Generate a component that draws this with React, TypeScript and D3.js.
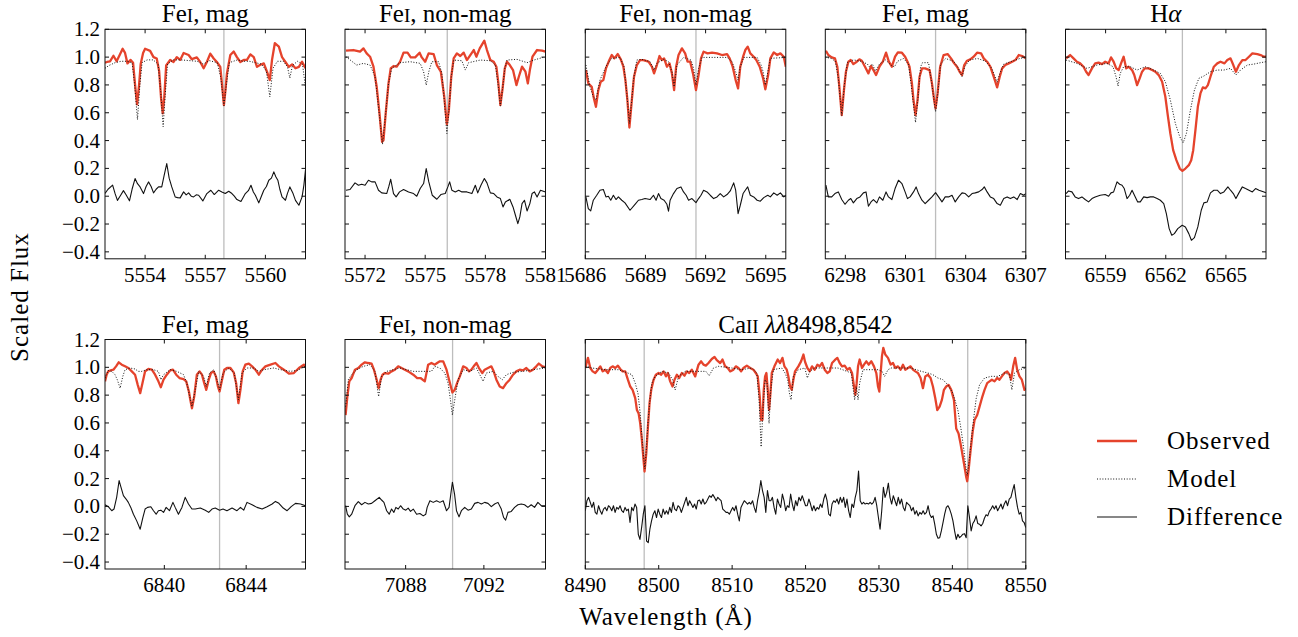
import React from "react";
import * as d3 from "d3";

type Pt = [number, number];

// ---------- Fe I 5557 (magnetic) ----------
const fe5557Obs: Pt[] = [[5552.0,0.96],[5552.1,0.965],[5552.25,0.97],[5552.42,1.01],[5552.58,0.97],[5552.75,1.02],[5552.88,1.06],[5553.0,1.03],[5553.12,0.955],[5553.28,0.98],[5553.4,0.96],[5553.5,0.8],[5553.6,0.66],[5553.7,0.8],[5553.78,0.95],[5553.9,1.03],[5554.0,1.06],[5554.25,1.045],[5554.42,1.0],[5554.58,0.99],[5554.7,0.9],[5554.8,0.7],[5554.88,0.595],[5554.96,0.72],[5555.05,0.94],[5555.25,0.98],[5555.42,0.965],[5555.58,1.0],[5555.75,0.98],[5555.92,1.03],[5556.17,1.015],[5556.33,0.985],[5556.58,0.998],[5556.75,0.965],[5556.92,0.92],[5557.08,0.965],[5557.25,1.025],[5557.42,0.99],[5557.58,0.965],[5557.75,0.93],[5557.85,0.78],[5557.93,0.655],[5558.0,0.75],[5558.08,0.88],[5558.25,1.015],[5558.42,1.04],[5558.58,1.0],[5558.75,0.965],[5558.92,0.98],[5559.08,0.98],[5559.25,1.02],[5559.42,1.0],[5559.58,0.93],[5559.75,0.945],[5559.92,0.955],[5560.08,0.895],[5560.22,0.835],[5560.33,0.98],[5560.47,1.1],[5560.67,1.075],[5560.83,1.0],[5561.0,0.965],[5561.17,0.93],[5561.33,0.948],[5561.5,0.92],[5561.67,0.93],[5561.83,0.967],[5562.0,0.92]];
const fe5557Model: Pt[] = [[5552.0,0.92],[5552.2,0.94],[5552.5,0.96],[5552.8,0.97],[5553.1,0.97],[5553.35,0.96],[5553.48,0.8],[5553.62,0.55],[5553.74,0.8],[5553.85,0.96],[5554.1,0.98],[5554.4,0.98],[5554.65,0.95],[5554.78,0.75],[5554.9,0.5],[5555.0,0.72],[5555.12,0.95],[5555.4,0.98],[5555.8,0.98],[5556.2,0.975],[5556.6,0.97],[5556.9,0.95],[5557.2,0.975],[5557.6,0.96],[5557.78,0.85],[5557.93,0.65],[5558.05,0.8],[5558.2,0.96],[5558.6,0.98],[5558.9,0.97],[5559.2,0.97],[5559.5,0.96],[5559.8,0.95],[5560.05,0.9],[5560.22,0.715],[5560.38,0.92],[5560.6,0.97],[5560.9,0.97],[5561.1,0.93],[5561.22,0.85],[5561.35,0.94],[5561.6,0.97],[5561.85,0.95],[5562.0,0.78]];
const fe5557Diff: Pt[] = [[5552.0,0.02],[5552.15,0.05],[5552.38,0.08],[5552.5,0.02],[5552.62,-0.03],[5552.75,0.0],[5552.92,0.04],[5553.05,0.01],[5553.22,-0.033],[5553.35,0.05],[5553.5,0.127],[5553.62,0.09],[5553.75,0.067],[5553.92,0.019],[5554.05,0.07],[5554.17,0.103],[5554.3,0.07],[5554.42,0.024],[5554.55,0.05],[5554.67,0.067],[5554.83,0.067],[5554.95,0.15],[5555.08,0.235],[5555.2,0.13],[5555.33,0.067],[5555.5,-0.005],[5555.62,-0.01],[5555.75,-0.012],[5555.92,0.031],[5556.05,0.01],[5556.17,0.024],[5556.3,0.0],[5556.42,-0.005],[5556.55,0.01],[5556.67,0.007],[5556.88,-0.034],[5557.08,0.019],[5557.28,0.043],[5557.45,0.012],[5557.67,0.043],[5557.83,0.031],[5558.0,0.019],[5558.17,0.036],[5558.33,0.019],[5558.45,0.0],[5558.58,-0.024],[5558.78,-0.038],[5559.0,0.019],[5559.15,0.04],[5559.28,0.079],[5559.4,0.03],[5559.5,0.007],[5559.67,-0.048],[5559.8,0.0],[5559.92,0.043],[5560.05,0.07],[5560.17,0.115],[5560.3,0.13],[5560.42,0.175],[5560.52,0.14],[5560.62,0.115],[5560.72,0.05],[5560.83,-0.005],[5561.0,-0.029],[5561.1,0.02],[5561.22,0.067],[5561.38,0.019],[5561.5,-0.03],[5561.67,-0.065],[5561.83,-0.005],[5561.92,0.08],[5562.0,0.19]];

// ---------- Fe I 5576 (non-magnetic) ----------
const fe5576Obs: Pt[] = [[5571.05,1.046],[5571.42,1.051],[5571.75,1.039],[5571.92,1.063],[5572.08,1.027],[5572.25,1.003],[5572.42,0.931],[5572.58,0.787],[5572.72,0.595],[5572.85,0.391],[5572.92,0.403],[5573.03,0.595],[5573.17,0.811],[5573.28,0.919],[5573.42,0.936],[5573.58,0.931],[5573.75,0.967],[5573.92,1.032],[5574.12,1.032],[5574.28,0.998],[5574.5,0.998],[5574.72,1.032],[5574.83,0.998],[5575.0,0.967],[5575.17,1.027],[5575.42,1.022],[5575.58,0.943],[5575.78,0.895],[5575.95,0.715],[5576.08,0.518],[5576.18,0.619],[5576.3,0.859],[5576.42,0.991],[5576.58,1.027],[5576.75,1.008],[5576.92,1.032],[5577.08,0.979],[5577.25,1.015],[5577.42,1.051],[5577.55,1.003],[5577.72,1.063],[5577.95,1.118],[5578.08,1.051],[5578.25,0.979],[5578.42,0.967],[5578.55,0.931],[5578.65,0.811],[5578.75,0.655],[5578.85,0.763],[5578.97,0.919],[5579.08,0.967],[5579.22,0.943],[5579.38,0.907],[5579.55,0.799],[5579.67,0.859],[5579.83,0.931],[5580.0,0.895],[5580.12,0.811],[5580.22,0.907],[5580.35,1.003],[5580.58,1.051],[5580.83,1.046],[5581.0,1.039]];
const fe5576Model: Pt[] = [[5571.05,1.003],[5571.58,0.943],[5571.92,0.955],[5572.25,0.943],[5572.5,0.859],[5572.67,0.643],[5572.87,0.374],[5573.03,0.595],[5573.17,0.811],[5573.33,0.919],[5573.75,0.96],[5574.25,0.967],[5574.75,0.955],[5574.92,0.895],[5575.05,0.799],[5575.18,0.895],[5575.33,0.967],[5575.67,0.967],[5575.83,0.883],[5575.95,0.691],[5576.08,0.451],[5576.2,0.643],[5576.3,0.859],[5576.42,0.979],[5576.83,0.974],[5577.0,0.907],[5577.17,0.96],[5577.75,0.979],[5578.25,0.974],[5578.5,0.943],[5578.63,0.811],[5578.75,0.648],[5578.87,0.787],[5578.97,0.919],[5579.08,0.979],[5579.58,0.984],[5580.08,0.96],[5580.42,0.979],[5581.0,1.003]];
const fe5576Diff: Pt[] = [[5571.05,0.043],[5571.25,0.048],[5571.5,0.096],[5571.67,0.079],[5571.83,0.086],[5572.0,0.079],[5572.17,0.115],[5572.33,0.103],[5572.5,0.103],[5572.67,0.043],[5572.83,0.024],[5573.08,0.019],[5573.18,0.067],[5573.28,0.122],[5573.42,0.019],[5573.55,-0.005],[5573.72,0.031],[5573.92,0.048],[5574.17,0.031],[5574.42,0.019],[5574.58,0.0],[5574.75,0.055],[5574.92,0.091],[5575.05,0.199],[5575.18,0.103],[5575.35,0.007],[5575.58,-0.022],[5575.78,0.012],[5576.0,0.019],[5576.13,0.067],[5576.22,0.103],[5576.33,0.043],[5576.5,0.031],[5576.67,0.043],[5576.83,0.031],[5577.08,0.031],[5577.33,0.019],[5577.5,0.079],[5577.62,0.024],[5577.78,0.079],[5577.95,0.127],[5578.08,0.096],[5578.25,0.024],[5578.42,0.019],[5578.58,-0.005],[5578.75,-0.017],[5578.88,-0.077],[5579.0,-0.041],[5579.22,-0.022],[5579.38,-0.077],[5579.5,-0.137],[5579.62,-0.197],[5579.72,-0.149],[5579.83,-0.053],[5579.95,-0.029],[5580.08,-0.106],[5580.22,-0.053],[5580.33,0.019],[5580.45,0.031],[5580.58,-0.005],[5580.75,0.043],[5581.0,0.031]];

// ---------- Fe I 5691 (non-magnetic) ----------
const fe5691Obs: Pt[] = [[5686.03,0.907],[5686.15,0.811],[5686.32,0.787],[5686.43,0.703],[5686.53,0.643],[5686.65,0.763],[5686.77,0.823],[5686.9,0.835],[5687.03,0.919],[5687.2,0.979],[5687.32,1.015],[5687.45,0.991],[5687.62,1.022],[5687.77,0.984],[5687.9,0.931],[5688.0,0.835],[5688.1,0.691],[5688.2,0.494],[5688.32,0.691],[5688.43,0.859],[5688.57,0.943],[5688.73,0.979],[5688.9,0.979],[5689.15,0.967],[5689.32,0.931],[5689.43,0.883],[5689.57,0.943],[5689.7,1.008],[5689.82,0.979],[5689.93,0.991],[5690.07,0.931],[5690.2,0.955],[5690.32,0.883],[5690.43,0.763],[5690.53,0.931],[5690.65,1.015],[5690.82,1.063],[5690.98,1.027],[5691.1,0.967],[5691.23,0.967],[5691.37,0.883],[5691.52,0.763],[5691.65,0.871],[5691.77,0.991],[5691.9,1.039],[5692.1,1.027],[5692.32,1.032],[5692.57,1.027],[5692.82,1.015],[5693.07,1.022],[5693.2,0.991],[5693.35,0.931],[5693.5,0.835],[5693.62,0.775],[5693.73,0.931],[5693.87,1.003],[5693.98,1.051],[5694.1,1.075],[5694.23,1.027],[5694.4,1.003],[5694.53,0.979],[5694.7,0.931],[5694.87,0.847],[5694.98,0.768],[5695.12,0.871],[5695.23,0.991],[5695.4,1.034],[5695.57,1.015],[5695.73,1.027],[5695.9,1.003],[5696.0,0.931]];
const fe5691Model: Pt[] = [[5686.03,0.943],[5686.23,0.787],[5686.4,0.715],[5686.53,0.691],[5686.73,0.835],[5687.07,0.943],[5687.32,0.991],[5687.73,0.998],[5687.93,0.931],[5688.07,0.739],[5688.2,0.523],[5688.32,0.691],[5688.4,0.835],[5688.57,0.979],[5688.82,0.984],[5689.23,0.967],[5689.43,0.907],[5689.57,0.955],[5689.9,0.984],[5690.15,0.967],[5690.32,0.895],[5690.43,0.787],[5690.57,0.943],[5690.9,0.998],[5691.27,0.979],[5691.4,0.919],[5691.52,0.799],[5691.65,0.919],[5691.82,0.998],[5693.07,0.998],[5693.32,0.967],[5693.5,0.895],[5693.62,0.835],[5693.73,0.931],[5693.9,0.998],[5694.57,0.998],[5694.77,0.943],[5694.87,0.895],[5694.98,0.799],[5695.12,0.907],[5695.23,0.991],[5696.0,0.998]];
const fe5691Diff: Pt[] = [[5686.03,-0.005],[5686.15,-0.089],[5686.27,-0.106],[5686.4,-0.029],[5686.57,0.007],[5686.73,0.043],[5686.9,0.048],[5687.03,-0.005],[5687.15,0.0],[5687.27,-0.029],[5687.4,0.007],[5687.53,-0.024],[5687.65,-0.005],[5687.82,-0.029],[5687.98,-0.048],[5688.23,-0.101],[5688.48,-0.058],[5688.65,-0.029],[5688.82,-0.024],[5688.98,-0.017],[5689.23,-0.024],[5689.4,0.007],[5689.53,-0.029],[5689.65,0.019],[5689.77,-0.017],[5689.93,-0.029],[5690.07,-0.058],[5690.15,-0.108],[5690.23,-0.029],[5690.4,0.019],[5690.57,0.055],[5690.77,0.067],[5690.9,0.031],[5691.03,0.007],[5691.15,-0.029],[5691.32,-0.017],[5691.52,-0.046],[5691.65,-0.017],[5691.77,0.007],[5691.9,0.043],[5692.07,0.031],[5692.23,0.007],[5692.4,-0.017],[5692.57,-0.005],[5692.73,0.019],[5692.9,-0.005],[5693.07,0.012],[5693.23,0.038],[5693.4,0.096],[5693.5,0.043],[5693.62,-0.125],[5693.73,-0.065],[5693.87,0.019],[5693.98,0.043],[5694.1,0.067],[5694.23,0.007],[5694.4,-0.005],[5694.57,-0.029],[5694.73,-0.036],[5694.9,-0.01],[5695.1,0.007],[5695.23,-0.005],[5695.4,0.024],[5695.57,0.007],[5695.73,0.024],[5695.9,-0.005],[5696.0,0.007]];

// ---------- Fe I 6302 (magnetic) ----------
const fe6302Obs: Pt[] = [[6297.03,1.046],[6297.15,1.015],[6297.32,0.998],[6297.48,0.991],[6297.6,0.931],[6297.7,0.787],[6297.82,0.583],[6297.93,0.763],[6298.03,0.895],[6298.15,0.967],[6298.27,0.979],[6298.4,0.95],[6298.57,0.967],[6298.7,0.984],[6298.82,0.974],[6298.98,0.931],[6299.15,0.883],[6299.28,0.936],[6299.4,0.907],[6299.53,0.871],[6299.7,0.931],[6299.87,0.967],[6300.03,1.032],[6300.17,0.967],[6300.32,0.931],[6300.48,1.003],[6300.62,1.034],[6300.82,1.032],[6300.98,1.003],[6301.1,0.967],[6301.2,0.931],[6301.32,0.811],[6301.4,0.691],[6301.5,0.583],[6301.6,0.691],[6301.7,0.859],[6301.82,0.919],[6301.98,0.919],[6302.2,0.907],[6302.32,0.811],[6302.43,0.691],[6302.5,0.631],[6302.6,0.739],[6302.73,0.931],[6302.9,1.015],[6303.1,1.022],[6303.27,0.991],[6303.43,0.955],[6303.57,0.931],[6303.7,0.895],[6303.82,0.871],[6303.93,0.943],[6304.07,0.974],[6304.23,0.984],[6304.4,1.003],[6304.57,1.032],[6304.77,1.027],[6304.9,0.991],[6305.07,0.967],[6305.23,0.931],[6305.4,0.859],[6305.57,0.782],[6305.7,0.859],[6305.82,0.919],[6305.98,0.943],[6306.15,0.955],[6306.32,0.967],[6306.48,0.979],[6306.65,1.015],[6306.82,1.008],[6307.0,0.991]];
const fe6302Model: Pt[] = [[6297.0,1.0],[6297.3,0.99],[6297.5,0.97],[6297.65,0.85],[6297.82,0.58],[6297.95,0.8],[6298.1,0.96],[6298.4,0.98],[6298.8,0.97],[6299.1,0.95],[6299.2,0.93],[6299.35,0.95],[6299.5,0.9],[6299.7,0.95],[6300.0,0.98],[6300.3,0.94],[6300.45,0.93],[6300.6,0.97],[6300.9,0.99],[6301.15,0.95],[6301.3,0.78],[6301.5,0.53],[6301.62,0.7],[6301.75,0.93],[6301.85,0.96],[6302.15,0.96],[6302.3,0.82],[6302.5,0.607],[6302.62,0.75],[6302.75,0.95],[6303.0,0.99],[6303.4,0.97],[6303.6,0.93],[6303.82,0.86],[6303.95,0.93],[6304.2,0.98],[6304.6,0.99],[6305.0,0.97],[6305.3,0.92],[6305.57,0.82],[6305.7,0.88],[6305.9,0.95],[6306.3,0.97],[6306.7,0.99],[6307.0,1.0]];
const fe6302Diff: Pt[] = [[6297.03,0.079],[6297.15,-0.005],[6297.32,-0.005],[6297.48,0.019],[6297.65,0.031],[6297.82,-0.024],[6297.98,-0.058],[6298.15,-0.029],[6298.27,-0.017],[6298.4,-0.048],[6298.57,-0.017],[6298.73,-0.005],[6298.9,0.024],[6299.03,0.031],[6299.15,-0.072],[6299.28,-0.041],[6299.4,-0.024],[6299.57,-0.048],[6299.7,-0.005],[6299.87,-0.029],[6300.03,0.031],[6300.15,-0.005],[6300.32,-0.024],[6300.48,0.055],[6300.65,0.115],[6300.82,0.091],[6300.98,0.031],[6301.1,-0.017],[6301.23,-0.005],[6301.4,0.031],[6301.53,0.067],[6301.65,0.019],[6301.82,-0.029],[6301.98,-0.053],[6302.15,-0.029],[6302.32,-0.005],[6302.5,0.026],[6302.65,-0.005],[6302.82,-0.041],[6302.98,-0.005],[6303.15,-0.005],[6303.32,0.007],[6303.48,-0.041],[6303.65,-0.005],[6303.82,0.024],[6303.98,0.019],[6304.15,-0.005],[6304.32,0.019],[6304.48,0.024],[6304.65,0.031],[6304.82,0.048],[6304.93,0.067],[6305.07,0.031],[6305.23,-0.005],[6305.4,-0.017],[6305.57,-0.053],[6305.73,-0.065],[6305.9,-0.017],[6306.07,-0.005],[6306.23,-0.017],[6306.4,-0.005],[6306.57,-0.024],[6306.73,0.019],[6306.9,0.007],[6307.0,0.019]];

// ---------- H alpha ----------
const haObs: Pt[] = [[6557.03,0.991],[6557.23,1.015],[6557.4,0.991],[6557.57,0.967],[6557.73,0.955],[6557.9,0.931],[6558.03,0.895],[6558.15,0.871],[6558.32,0.919],[6558.48,0.955],[6558.65,0.96],[6558.82,0.95],[6558.98,0.967],[6559.15,0.955],[6559.27,0.998],[6559.4,0.967],[6559.53,0.919],[6559.65,0.907],[6559.77,0.955],[6559.9,1.003],[6560.03,0.919],[6560.15,0.931],[6560.32,0.907],[6560.43,0.871],[6560.57,0.799],[6560.7,0.847],[6560.82,0.895],[6560.95,0.919],[6561.15,0.919],[6561.32,0.907],[6561.48,0.895],[6561.65,0.871],[6561.82,0.823],[6561.98,0.715],[6562.1,0.583],[6562.23,0.451],[6562.37,0.331],[6562.53,0.259],[6562.7,0.199],[6562.83,0.182],[6562.98,0.199],[6563.15,0.223],[6563.27,0.259],[6563.37,0.331],[6563.48,0.475],[6563.6,0.643],[6563.73,0.739],[6563.85,0.782],[6563.98,0.775],[6564.1,0.799],[6564.23,0.859],[6564.4,0.931],[6564.57,0.955],[6564.73,0.967],[6564.93,0.955],[6565.07,0.979],[6565.23,0.991],[6565.37,0.943],[6565.5,0.895],[6565.65,0.943],[6565.82,0.979],[6565.98,0.979],[6566.15,1.003],[6566.32,1.027],[6566.57,1.022],[6566.73,1.015],[6566.9,1.003],[6567.0,1.003]];
const haModel: Pt[] = [[6557.03,0.979],[6557.57,0.955],[6558.07,0.919],[6558.57,0.943],[6559.07,0.955],[6559.37,0.931],[6559.52,0.859],[6559.62,0.792],[6559.73,0.883],[6559.9,0.931],[6560.23,0.931],[6560.57,0.907],[6560.98,0.931],[6561.4,0.907],[6561.73,0.883],[6561.98,0.823],[6562.23,0.691],[6562.48,0.523],[6562.7,0.427],[6562.87,0.384],[6563.03,0.451],[6563.23,0.619],[6563.43,0.763],[6563.65,0.847],[6563.9,0.864],[6564.23,0.895],[6564.57,0.907],[6564.9,0.907],[6565.23,0.919],[6565.5,0.871],[6565.73,0.907],[6566.07,0.943],[6566.4,0.95],[6566.73,0.96],[6567.0,0.967]];
const haDiff: Pt[] = [[6557.03,0.019],[6557.15,0.038],[6557.32,0.031],[6557.48,-0.005],[6557.65,-0.017],[6557.82,-0.005],[6557.98,-0.024],[6558.15,-0.041],[6558.32,-0.017],[6558.48,-0.005],[6558.73,0.007],[6558.98,0.012],[6559.15,0.0],[6559.27,0.024],[6559.4,0.031],[6559.57,0.103],[6559.7,0.086],[6559.82,0.079],[6559.93,0.055],[6560.07,-0.017],[6560.2,0.007],[6560.32,0.043],[6560.48,-0.005],[6560.6,-0.041],[6560.73,-0.041],[6560.9,-0.005],[6561.07,-0.01],[6561.23,-0.005],[6561.4,-0.005],[6561.57,-0.017],[6561.73,-0.029],[6561.9,-0.053],[6562.03,-0.125],[6562.17,-0.233],[6562.3,-0.281],[6562.43,-0.269],[6562.6,-0.233],[6562.82,-0.209],[6562.98,-0.221],[6563.15,-0.269],[6563.28,-0.317],[6563.43,-0.298],[6563.6,-0.221],[6563.77,-0.101],[6563.9,-0.048],[6564.07,-0.041],[6564.23,0.024],[6564.4,0.043],[6564.57,0.043],[6564.73,0.019],[6564.9,0.031],[6565.1,0.067],[6565.23,0.043],[6565.37,0.019],[6565.5,-0.017],[6565.65,0.024],[6565.82,0.067],[6565.98,0.055],[6566.15,0.043],[6566.32,0.031],[6566.48,0.055],[6566.65,0.043],[6566.9,0.031],[6567.0,0.024]];

// ---------- Fe I 6843 (magnetic) ----------
const fe6843Obs: Pt[] = [[6837.1,0.899],[6837.18,0.947],[6837.26,0.971],[6837.38,0.978],[6837.51,0.983],[6837.64,1.007],[6837.77,1.036],[6837.92,1.019],[6838.08,1.007],[6838.24,0.995],[6838.41,0.971],[6838.57,0.947],[6838.7,0.874],[6838.82,0.814],[6838.93,0.886],[6839.06,0.971],[6839.22,0.988],[6839.39,0.983],[6839.55,0.947],[6839.71,0.899],[6839.83,0.857],[6839.96,0.911],[6840.12,0.947],[6840.29,0.978],[6840.42,0.983],[6840.58,0.947],[6840.74,0.923],[6840.94,0.915],[6841.07,0.899],[6841.2,0.826],[6841.27,0.766],[6841.35,0.705],[6841.46,0.79],[6841.59,0.947],[6841.72,0.971],[6841.84,0.947],[6841.95,0.886],[6842.05,0.838],[6842.17,0.911],[6842.28,0.959],[6842.41,0.971],[6842.52,0.935],[6842.62,0.862],[6842.7,0.826],[6842.82,0.911],[6842.93,0.983],[6843.06,0.995],[6843.23,0.995],[6843.39,0.964],[6843.51,0.886],[6843.62,0.742],[6843.72,0.838],[6843.83,0.971],[6843.96,1.019],[6844.13,1.027],[6844.29,1.007],[6844.45,0.983],[6844.62,0.947],[6844.78,0.983],[6844.94,1.007],[6845.19,1.019],[6845.43,1.031],[6845.6,1.007],[6845.84,0.983],[6846.09,0.954],[6846.33,0.959],[6846.58,0.995],[6846.82,1.019],[6846.9,1.007]];
const fe6843Model: Pt[] = [[6837.1,0.923],[6837.26,0.978],[6837.43,0.971],[6837.59,0.947],[6837.7,0.911],[6837.84,0.85],[6837.97,0.935],[6838.08,0.983],[6838.33,0.995],[6838.57,0.988],[6838.73,0.971],[6838.9,0.971],[6839.14,0.983],[6839.47,0.983],[6839.71,0.971],[6839.83,0.911],[6839.96,0.947],[6840.29,0.983],[6840.61,0.971],[6840.94,0.947],[6841.1,0.886],[6841.35,0.717],[6841.51,0.838],[6841.68,0.971],[6841.92,0.935],[6842.05,0.862],[6842.21,0.959],[6842.41,0.983],[6842.57,0.911],[6842.7,0.838],[6842.87,0.959],[6843.15,0.995],[6843.42,0.959],[6843.62,0.766],[6843.8,0.959],[6844.04,0.995],[6844.37,0.995],[6844.62,0.971],[6844.86,0.983],[6845.35,0.995],[6845.68,0.983],[6846.17,0.971],[6846.5,0.978],[6846.9,1.007]];
const fe6843Diff: Pt[] = [[6837.1,0.012],[6837.26,-0.002],[6837.43,-0.031],[6837.54,-0.019],[6837.67,0.065],[6837.79,0.186],[6837.88,0.138],[6838.0,0.077],[6838.13,0.053],[6838.24,0.029],[6838.36,-0.007],[6838.49,-0.056],[6838.65,-0.104],[6838.82,-0.164],[6838.95,-0.08],[6839.06,-0.019],[6839.18,-0.007],[6839.34,-0.002],[6839.47,-0.031],[6839.6,-0.056],[6839.71,-0.031],[6839.83,-0.027],[6839.96,-0.043],[6840.09,-0.007],[6840.25,-0.031],[6840.42,0.029],[6840.53,-0.007],[6840.69,-0.056],[6840.86,-0.007],[6841.02,0.065],[6841.18,0.017],[6841.35,-0.019],[6841.51,-0.019],[6841.76,-0.012],[6842.0,-0.027],[6842.17,-0.043],[6842.33,-0.019],[6842.49,-0.012],[6842.7,-0.027],[6842.87,-0.019],[6843.06,-0.031],[6843.31,-0.012],[6843.55,-0.031],[6843.72,-0.007],[6843.88,-0.027],[6844.04,0.029],[6844.29,0.012],[6844.53,-0.007],[6844.78,-0.019],[6845.02,-0.002],[6845.27,0.017],[6845.43,0.036],[6845.6,0.022],[6845.81,-0.012],[6846.0,-0.031],[6846.2,-0.002],[6846.41,0.022],[6846.66,0.017],[6846.9,0.005]];

// ---------- Fe I 7090 (non-magnetic) ----------
const fe7090Obs: Pt[] = [[7084.93,0.657],[7085.02,0.79],[7085.12,0.899],[7085.24,0.923],[7085.41,0.983],[7085.58,0.995],[7085.75,1.019],[7085.92,1.036],[7086.09,1.031],[7086.26,1.027],[7086.38,0.983],[7086.52,0.911],[7086.62,0.85],[7086.72,0.911],[7086.82,0.947],[7086.94,0.959],[7087.11,0.954],[7087.28,0.971],[7087.45,0.983],[7087.62,1.007],[7087.79,0.995],[7087.96,0.983],[7088.13,0.971],[7088.39,0.947],[7088.59,0.923],[7088.76,0.923],[7088.98,0.899],[7089.15,1.019],[7089.32,1.031],[7089.49,1.019],[7089.61,1.031],[7089.75,1.043],[7089.92,1.043],[7090.09,0.983],[7090.22,0.911],[7090.39,0.819],[7090.51,0.838],[7090.63,0.886],[7090.77,0.935],[7090.94,1.007],[7091.11,0.995],[7091.24,0.971],[7091.36,0.983],[7091.48,1.007],[7091.62,1.031],[7091.75,0.995],[7091.92,0.959],[7092.04,0.983],[7092.21,0.995],[7092.38,1.007],[7092.5,0.971],[7092.64,0.911],[7092.81,0.862],[7092.98,0.85],[7093.15,0.886],[7093.32,0.911],[7093.49,0.947],[7093.66,0.971],[7093.83,0.983],[7094.0,0.978],[7094.17,0.995],[7094.34,0.971],[7094.51,0.983],[7094.68,1.007],[7094.81,1.027],[7094.99,1.007],[7095.14,1.002]];
const fe7090Model: Pt[] = [[7084.93,0.717],[7085.07,0.911],[7085.24,0.947],[7085.5,0.983],[7085.84,1.007],[7086.18,1.019],[7086.43,0.971],[7086.62,0.79],[7086.77,0.935],[7087.03,0.971],[7087.37,0.983],[7087.71,0.995],[7088.05,0.983],[7088.39,0.971],[7088.73,0.971],[7089.07,0.971],[7089.32,0.971],[7089.49,1.007],[7089.75,0.995],[7090.0,0.959],[7090.17,0.886],[7090.29,0.766],[7090.39,0.657],[7090.51,0.766],[7090.68,0.911],[7090.94,0.983],[7091.28,0.971],[7091.62,0.995],[7091.79,0.947],[7091.96,0.899],[7092.13,0.959],[7092.47,0.971],[7092.72,0.935],[7092.94,0.911],[7093.15,0.947],[7093.49,0.964],[7094.0,0.971],[7094.51,0.983],[7095.14,0.995]];
const fe7090Diff: Pt[] = [[7084.93,0.005],[7085.02,-0.056],[7085.12,-0.075],[7085.24,-0.056],[7085.41,0.005],[7085.58,0.034],[7085.75,0.012],[7085.92,0.029],[7086.09,0.017],[7086.26,0.022],[7086.43,0.041],[7086.65,0.065],[7086.77,0.046],[7086.89,0.029],[7087.03,-0.031],[7087.16,-0.056],[7087.28,-0.019],[7087.4,-0.043],[7087.5,-0.007],[7087.62,-0.019],[7087.74,0.005],[7087.88,-0.019],[7088.01,-0.027],[7088.13,-0.012],[7088.25,-0.036],[7088.39,-0.019],[7088.56,-0.056],[7088.73,-0.051],[7088.9,-0.068],[7089.03,-0.056],[7089.1,-0.007],[7089.24,0.041],[7089.41,0.029],[7089.58,0.041],[7089.75,0.029],[7089.92,0.041],[7090.09,-0.031],[7090.22,-0.007],[7090.31,0.089],[7090.39,0.174],[7090.5,0.089],[7090.6,-0.031],[7090.73,-0.075],[7090.85,-0.031],[7091.02,-0.007],[7091.19,-0.027],[7091.36,-0.019],[7091.53,0.022],[7091.7,0.029],[7091.87,0.017],[7092.04,0.029],[7092.21,0.022],[7092.38,-0.002],[7092.55,0.017],[7092.72,0.029],[7092.89,-0.019],[7093.01,-0.08],[7093.11,-0.099],[7093.23,-0.043],[7093.4,-0.036],[7093.57,-0.007],[7093.74,0.012],[7093.91,0.017],[7094.08,0.012],[7094.25,-0.007],[7094.42,0.012],[7094.59,-0.007],[7094.76,0.029],[7094.93,0.005],[7095.14,0.005]];

// ---------- Ca II 8498, 8542 ----------
const caObs: Pt[] = [[8490.0,0.995],[8490.36,1.068],[8490.68,0.995],[8491.0,0.971],[8491.36,0.959],[8491.72,0.983],[8492.04,1.007],[8492.36,0.971],[8492.72,0.983],[8493.08,0.959],[8493.4,0.995],[8493.72,1.007],[8494.08,0.995],[8494.44,1.012],[8494.76,0.988],[8495.08,0.971],[8495.44,0.971],[8495.8,0.911],[8496.12,0.862],[8496.44,0.838],[8496.8,0.778],[8497.03,0.693],[8497.26,0.669],[8497.48,0.597],[8497.71,0.476],[8497.94,0.331],[8498.07,0.251],[8498.3,0.379],[8498.53,0.572],[8498.75,0.742],[8498.98,0.838],[8499.3,0.911],[8499.61,0.947],[8499.98,0.959],[8500.34,0.947],[8500.66,0.971],[8500.98,0.935],[8501.25,0.959],[8501.56,0.899],[8501.88,0.862],[8502.15,0.911],[8502.47,0.947],[8502.79,0.923],[8503.15,0.959],[8503.51,0.94],[8503.83,0.971],[8504.15,0.959],[8504.51,0.983],[8504.97,0.935],[8505.42,1.019],[8505.78,1.043],[8506.1,1.019],[8506.42,1.012],[8506.78,1.031],[8507.23,1.06],[8507.6,1.075],[8507.91,1.051],[8508.37,1.031],[8508.68,1.056],[8509.05,1.007],[8509.41,0.995],[8509.73,0.971],[8510.18,0.983],[8510.5,1.007],[8510.86,0.995],[8511.22,0.971],[8511.54,0.995],[8512.0,1.012],[8512.45,0.995],[8512.9,0.983],[8513.22,0.959],[8513.49,0.935],[8513.76,0.79],[8513.95,0.621],[8514.13,0.621],[8514.31,0.838],[8514.49,0.935],[8514.67,0.959],[8514.85,0.838],[8515.03,0.693],[8515.22,0.814],[8515.4,0.959],[8515.76,1.007],[8516.21,1.056],[8516.53,1.031],[8516.85,1.068],[8517.12,1.007],[8517.44,0.983],[8517.66,0.935],[8517.89,0.862],[8518.12,0.838],[8518.34,0.911],[8518.57,0.971],[8519.02,1.007],[8519.39,1.043],[8519.71,1.092],[8519.93,1.04],[8520.25,0.995],[8520.57,0.971],[8520.89,1.007],[8521.25,0.983],[8521.61,1.019],[8521.93,1.007],[8522.25,1.031],[8522.61,0.983],[8522.97,0.959],[8523.29,0.971],[8523.61,1.031],[8523.97,1.051],[8524.33,1.068],[8524.65,1.031],[8524.97,1.007],[8525.33,1.012],[8525.69,0.983],[8526.01,0.995],[8526.33,0.959],[8526.6,0.862],[8526.78,0.802],[8526.96,0.886],[8527.15,1.007],[8527.37,1.056],[8527.69,0.995],[8527.96,1.019],[8528.28,1.043],[8528.6,1.019],[8528.96,1.043],[8529.32,1.007],[8529.64,0.959],[8529.87,0.862],[8530.05,0.826],[8530.23,0.959],[8530.41,1.08],[8530.59,1.14],[8530.86,1.092],[8531.23,1.068],[8531.59,1.019],[8531.91,1.031],[8532.23,0.995],[8532.59,1.007],[8532.95,0.983],[8533.27,1.019],[8533.59,0.983],[8533.95,0.995],[8534.31,1.007],[8534.63,0.983],[8534.95,0.971],[8535.31,0.959],[8535.67,0.923],[8535.99,0.85],[8536.31,0.935],[8536.67,0.947],[8537.03,0.923],[8537.35,0.862],[8537.67,0.778],[8537.94,0.693],[8538.26,0.717],[8538.57,0.766],[8538.85,0.838],[8539.16,0.862],[8539.48,0.874],[8539.84,0.838],[8540.21,0.766],[8540.52,0.56],[8540.84,0.524],[8541.11,0.452],[8541.43,0.355],[8541.66,0.283],[8541.89,0.21],[8542.02,0.181],[8542.2,0.258],[8542.48,0.403],[8542.79,0.548],[8543.02,0.621],[8543.38,0.657],[8543.7,0.717],[8544.02,0.778],[8544.38,0.838],[8544.74,0.886],[8545.06,0.899],[8545.38,0.911],[8545.74,0.899],[8546.1,0.923],[8546.42,0.911],[8546.74,0.935],[8547.1,0.959],[8547.46,0.971],[8547.78,0.947],[8548.0,0.911],[8548.28,1.007],[8548.55,1.068],[8548.82,0.983],[8549.14,0.935],[8549.46,0.911],[8549.82,0.838],[8550.0,0.85]];
const caModel: Pt[] = [[8490.0,1.007],[8490.91,0.995],[8492.72,0.983],[8494.54,0.983],[8495.8,0.959],[8496.35,0.947],[8496.8,0.886],[8497.17,0.814],[8497.48,0.669],[8497.71,0.5],[8497.94,0.355],[8498.12,0.271],[8498.3,0.403],[8498.53,0.597],[8498.84,0.79],[8499.07,0.886],[8499.52,0.935],[8500.43,0.971],[8501.34,0.959],[8501.88,0.911],[8502.24,0.838],[8502.7,0.935],[8503.61,0.971],[8504.97,0.971],[8506.42,0.971],[8506.87,0.94],[8507.46,0.995],[8508.14,1.007],[8509.95,0.995],[8511.32,0.983],[8512.68,0.995],[8513.36,0.959],[8513.67,0.766],[8513.95,0.428],[8514.22,0.717],[8514.49,0.911],[8514.76,0.886],[8515.03,0.597],[8515.26,0.838],[8515.62,0.983],[8516.76,0.995],[8517.21,0.959],[8517.57,0.911],[8517.8,0.814],[8518.03,0.766],[8518.34,0.935],[8519.02,0.983],[8519.9,0.995],[8520.25,0.923],[8520.57,0.971],[8521.25,0.995],[8524.42,0.995],[8526.24,0.959],[8526.51,0.838],[8526.69,0.766],[8526.92,0.862],[8527.15,0.766],[8527.37,0.886],[8527.83,0.983],[8529.87,0.983],[8530.41,0.971],[8530.77,0.935],[8531.23,0.983],[8531.68,0.995],[8534.4,0.995],[8535.76,0.971],[8536.67,0.959],[8537.35,0.947],[8538.03,0.923],[8538.71,0.911],[8539.39,0.874],[8540.07,0.814],[8540.75,0.693],[8541.2,0.548],[8541.57,0.403],[8541.84,0.283],[8542.02,0.222],[8542.25,0.307],[8542.57,0.476],[8542.93,0.645],[8543.25,0.778],[8543.7,0.874],[8544.38,0.923],[8545.29,0.935],[8546.19,0.935],[8547.1,0.959],[8547.78,0.947],[8548.1,0.838],[8548.46,0.959],[8549.14,0.983],[8550.0,0.995]];
// difference spectrum sampled on an even wavelength grid from 8490 to 8550 Å
const caDiffStart = 8490;
const caDiffEnd = 8550;
const caDiffValues: number[] = [
  -0.031,0.041,0.065,0.029,-0.007,0.029,-0.043,-0.056,0.005,-0.031,
  -0.056,-0.019,-0.007,-0.031,0.005,-0.007,-0.031,0.005,-0.043,-0.007,
  -0.019,0.005,-0.031,-0.043,-0.007,-0.031,-0.019,-0.116,-0.007,-0.031,
  0.017,-0.007,-0.2,-0.237,-0.152,-0.056,0.005,-0.249,-0.261,-0.164,
  -0.104,-0.056,-0.031,-0.08,-0.019,-0.056,-0.08,-0.019,-0.056,-0.031,
  -0.056,-0.007,-0.043,0.029,-0.019,-0.031,0.005,-0.007,-0.043,-0.007,
  0.029,0.065,0.005,0.041,0.017,-0.007,0.017,-0.019,0.041,0.046,
  0.017,0.053,0.017,0.029,0.053,0.077,0.065,0.085,0.065,0.041,
  0.065,0.053,0.041,-0.019,-0.031,-0.043,-0.043,-0.056,-0.031,-0.007,
  -0.031,0.005,-0.056,-0.104,-0.007,0.017,0.041,0.029,0.017,0.029,
  0.017,0.041,-0.007,-0.043,0.041,0.101,0.186,0.114,0.065,-0.043,
  0.114,0.041,0.041,0.065,-0.007,-0.056,0.053,0.017,-0.007,0.089,
  0.041,-0.031,0.005,-0.007,0.089,0.017,-0.031,0.041,0.005,0.065,
  0.041,0.077,0.041,0.005,
  0.005,0.053,0.017,-0.031,0.005,-0.031,-0.007,-0.019,0.017,-0.007,
  0.053,0.089,0.041,-0.056,-0.068,0.017,0.041,0.029,0.053,0.017,
  0.065,0.029,0.065,-0.007,0.053,-0.031,-0.08,0.017,-0.007,0.065,
  0.114,0.254,0.041,0.017,0.029,0.017,0.022,0.017,0.029,0.017,
  0.029,0.065,0.005,-0.08,-0.164,-0.031,0.138,0.065,0.101,0.167,
  0.065,0.017,0.077,0.041,0.005,0.065,0.017,0.053,-0.007,-0.031,
  0.029,0.017,0.005,-0.031,-0.007,-0.056,-0.031,-0.068,-0.043,-0.056,
  -0.031,-0.056,-0.043,0.005,-0.056,-0.08,-0.068,-0.128,-0.2,-0.229,
  -0.225,-0.176,-0.116,-0.056,-0.007,0.005,-0.019,-0.056,-0.104,-0.176,
  -0.237,-0.2,-0.225,-0.213,-0.2,-0.196,-0.225,0.005,-0.08,-0.176,
  -0.123,-0.104,-0.068,-0.123,-0.128,-0.14,-0.123,-0.085,-0.06,-0.068,
  -0.036,-0.019,0.005,-0.019,0.005,-0.031,-0.007,0.017,-0.019,0.017,
  0.041,0.005,0.053,0.065,0.114,0.157,0.065,-0.007,-0.056,-0.043,
  -0.104,-0.116,-0.152,
];
const caDiff: Pt[] = caDiffValues.map((v, i) => [
  caDiffStart + (i * (caDiffEnd - caDiffStart)) / (caDiffValues.length - 1),
  v,
]);

// ---------- axes: ranges, ticks, line centres ----------
const fluxDomain: [number, number] = [-0.45, 1.2];
const fluxTicks = [-0.4, -0.2, 0.0, 0.2, 0.4, 0.6, 0.8, 1.0, 1.2];

const ticks5557 = [5554, 5557, 5560];
const ticks5576 = [5572, 5575, 5578, 5581];
const ticks5691 = [5686, 5689, 5692, 5695];
const ticks6302 = [6298, 6301, 6304, 6307];
const ticksHa = [6559, 6562, 6565];
const ticks6843 = [6840, 6844];
const ticks7090 = [7088, 7092];
const ticksCa = [8490, 8500, 8510, 8520, 8530, 8540, 8550];

const centre5557 = [5557.93];
const centre5576 = [5576.1];
const centre5691 = [5691.52];
const centre6302 = [6302.5];
const centreHa = [6562.83];
const centre6843 = [6842.7];
const centre7090 = [7090.4];
const centreCa = [8498.02, 8542.09];

// ---------- styling & layout ----------
const OBS_COLOR = "#e5432c";
const GRID_COLOR = "#bdbdbd";
const FONT = "Liberation Serif";

const colLeft = [105, 345, 585.3, 825.3, 1065.5];
const panelW = 200.5;
const rowTop = [29.3, 339.5];
const panelH = 229.5;
const TICK = 4;

type TitleKind = "femag" | "fenon" | "ha" | "ca";

interface PanelSpec {
  id: string;
  title: TitleKind;
  domain: [number, number];
  ticks: number[];
  centres: number[];
  obs: Pt[];
  model: Pt[];
  diff: Pt[];
  row: number;
  col: number;
  span: number;
}

const panels: PanelSpec[] = [
  { id: "p5557", title: "femag", domain: [5552, 5562], ticks: ticks5557, centres: centre5557, obs: fe5557Obs, model: fe5557Model, diff: fe5557Diff, row: 0, col: 0, span: 1 },
  { id: "p5576", title: "fenon", domain: [5571, 5581], ticks: ticks5576, centres: centre5576, obs: fe5576Obs, model: fe5576Model, diff: fe5576Diff, row: 0, col: 1, span: 1 },
  { id: "p5691", title: "fenon", domain: [5686, 5696], ticks: ticks5691, centres: centre5691, obs: fe5691Obs, model: fe5691Model, diff: fe5691Diff, row: 0, col: 2, span: 1 },
  { id: "p6302", title: "femag", domain: [6297, 6307], ticks: ticks6302, centres: centre6302, obs: fe6302Obs, model: fe6302Model, diff: fe6302Diff, row: 0, col: 3, span: 1 },
  { id: "pHa", title: "ha", domain: [6557, 6567], ticks: ticksHa, centres: centreHa, obs: haObs, model: haModel, diff: haDiff, row: 0, col: 4, span: 1 },
  { id: "p6843", title: "femag", domain: [6837.1, 6846.9], ticks: ticks6843, centres: centre6843, obs: fe6843Obs, model: fe6843Model, diff: fe6843Diff, row: 1, col: 0, span: 1 },
  { id: "p7090", title: "fenon", domain: [7084.9, 7095.15], ticks: ticks7090, centres: centre7090, obs: fe7090Obs, model: fe7090Model, diff: fe7090Diff, row: 1, col: 1, span: 1 },
  { id: "pCa", title: "ca", domain: [8490, 8550], ticks: ticksCa, centres: centreCa, obs: caObs, model: caModel, diff: caDiff, row: 1, col: 2, span: 2 },
];

function Title({ kind, x, y }: { kind: TitleKind; x: number; y: number }) {
  if (kind === "femag" || kind === "fenon") {
    return (
      <text x={x} y={y} textAnchor="middle" fontFamily={FONT} fontSize={25}>
        Fe<tspan fontSize={19}>I</tspan>, {kind === "femag" ? "mag" : "non-mag"}
      </text>
    );
  }
  if (kind === "ha") {
    return (
      <text x={x} y={y} textAnchor="middle" fontFamily={FONT} fontSize={25}>
        H<tspan fontStyle="italic">α</tspan>
      </text>
    );
  }
  return (
    <text x={x} y={y} textAnchor="middle" fontFamily={FONT} fontSize={25}>
      Ca<tspan fontSize={19}>II</tspan> <tspan fontStyle="italic">λλ</tspan>8498,8542
    </text>
  );
}

function Panel({ spec }: { spec: PanelSpec }) {
  const left = colLeft[spec.col];
  const width = spec.span === 1 ? panelW : colLeft[spec.col + spec.span - 1] + panelW - left;
  const top = rowTop[spec.row];
  const bottom = top + panelH;
  const right = left + width;

  const x = d3.scaleLinear().domain(spec.domain).range([left, right]);
  const y = d3.scaleLinear().domain(fluxDomain).range([bottom, top]);
  const line = d3
    .line<Pt>()
    .x((d) => x(d[0]))
    .y((d) => y(d[1]));
  const fmtY = d3.format(".1f");
  const clipId = `clip-${spec.id}`;
  const showY = spec.col === 0;

  return (
    <g>
      <defs>
        <clipPath id={clipId}>
          <rect x={left} y={top} width={width} height={panelH} />
        </clipPath>
      </defs>
      <g clipPath={`url(#${clipId})`}>
        {spec.centres.map((c) => (
          <line key={c} x1={x(c)} x2={x(c)} y1={top} y2={bottom} stroke={GRID_COLOR} strokeWidth={1.3} />
        ))}
        <path d={line(spec.obs) ?? ""} fill="none" stroke={OBS_COLOR} strokeWidth={2.3} strokeLinejoin="round" />
        <path d={line(spec.model) ?? ""} fill="none" stroke="#111" strokeWidth={1} strokeDasharray="1 1.7" />
        <path d={line(spec.diff) ?? ""} fill="none" stroke="#111" strokeWidth={1.1} strokeLinejoin="round" />
      </g>
      <rect x={left} y={top} width={width} height={panelH} fill="none" stroke="#111" strokeWidth={1} />
      {fluxTicks.map((t) => (
        <g key={`y${t}`}>
          <line x1={left} x2={left + TICK} y1={y(t)} y2={y(t)} stroke="#111" />
          <line x1={right - TICK} x2={right} y1={y(t)} y2={y(t)} stroke="#111" />
          {showY && (
            <text x={left - 5} y={y(t) + 7} textAnchor="end" fontFamily={FONT} fontSize={21}>
              {fmtY(t)}
            </text>
          )}
        </g>
      ))}
      {spec.ticks.map((t) => (
        <g key={`x${t}`}>
          <line x1={x(t)} x2={x(t)} y1={bottom} y2={bottom - TICK} stroke="#111" />
          <line x1={x(t)} x2={x(t)} y1={top} y2={top + TICK} stroke="#111" />
          <text x={x(t)} y={bottom + 23} textAnchor="middle" fontFamily={FONT} fontSize={21}>
            {t}
          </text>
        </g>
      ))}
      <Title kind={spec.title} x={(left + right) / 2} y={top - 7} />
    </g>
  );
}

const legendItems = [
  { label: "Observed", stroke: OBS_COLOR, width: 2.3, dash: undefined as string | undefined },
  { label: "Model", stroke: "#111", width: 1, dash: "1 1.7" },
  { label: "Difference", stroke: "#111", width: 1.1, dash: undefined },
];

export default function App() {
  return (
    <svg width={1298} height={637} style={{ position: "absolute", left: 0, top: 0 }}>
      <style>{`text { font-family: "Liberation Serif", serif; }`}</style>
      {panels.map((p) => (
        <Panel key={p.id} spec={p} />
      ))}
      <text transform="translate(28,297) rotate(-90)" textAnchor="middle" fontFamily={FONT} fontSize={25} letterSpacing={1}>
        Scaled Flux
      </text>
      <text x={666} y={625} textAnchor="middle" fontFamily={FONT} fontSize={25} letterSpacing={1}>
        Wavelength (Å)
      </text>
      {legendItems.map((item, i) => {
        const ly = 441 + i * 38;
        return (
          <g key={item.label}>
            <line x1={1097} x2={1137} y1={ly} y2={ly} stroke={item.stroke} strokeWidth={item.width} strokeDasharray={item.dash} />
            <text x={1167} y={ly + 8} fontFamily={FONT} fontSize={25} letterSpacing={1}>
              {item.label}
            </text>
          </g>
        );
      })}
    </svg>
  );
}
